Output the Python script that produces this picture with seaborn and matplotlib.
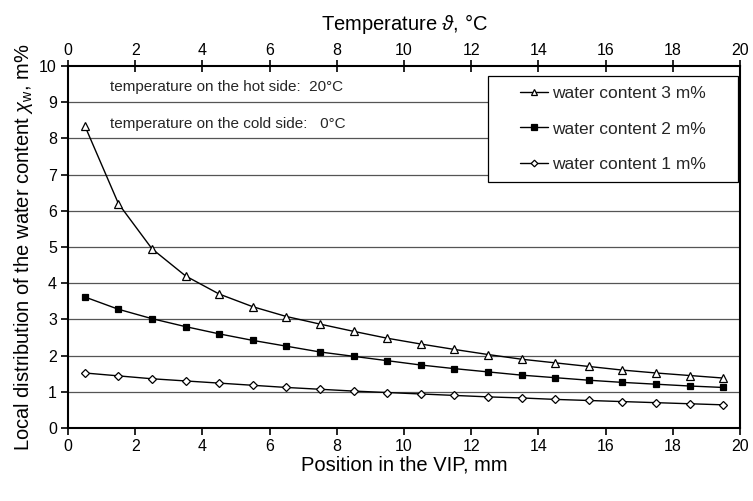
import numpy as np
import pandas as pd
import matplotlib
matplotlib.use("Agg")
import matplotlib.pyplot as plt
from matplotlib.patches import Rectangle
import seaborn as sns

position = [0.5, 1.5, 2.5, 3.5, 4.5, 5.5, 6.5, 7.5, 8.5, 9.5,
            10.5, 11.5, 12.5, 13.5, 14.5, 15.5, 16.5, 17.5, 18.5, 19.5]
wc3 = [8.35, 6.2, 4.95, 4.2, 3.7, 3.35, 3.08, 2.87, 2.67, 2.48,
       2.32, 2.17, 2.03, 1.9, 1.8, 1.7, 1.6, 1.52, 1.45, 1.38]
wc2 = [3.62, 3.28, 3.02, 2.8, 2.6, 2.42, 2.26, 2.1, 1.98, 1.86,
       1.74, 1.64, 1.55, 1.46, 1.39, 1.32, 1.26, 1.21, 1.16, 1.12]
wc1 = [1.52, 1.44, 1.36, 1.3, 1.24, 1.18, 1.12, 1.07, 1.02, 0.98,
       0.94, 0.9, 0.86, 0.83, 0.79, 0.76, 0.73, 0.70, 0.67, 0.64]
series_labels = ["water content 3 m%", "water content 2 m%", "water content 1 m%"]
x_ticks = list(range(0, 21, 2))
y_ticks = list(range(0, 11))

sns.set_theme(style="white")
plt.rcParams['font.family'] = ['Liberation Sans', 'DejaVu Sans']
plt.rcParams['mathtext.fontset'] = 'custom'
plt.rcParams['mathtext.rm'] = 'Liberation Sans'
plt.rcParams['mathtext.it'] = 'Liberation Sans:italic'

fig = plt.figure(figsize=(7.53, 5.01), dpi=100)
ax = fig.add_axes([0.0903, 0.1457, 0.8924, 0.7226])

for y in y_ticks[1:-1]:
    ax.axhline(y, color='#555555', lw=0.9, zorder=0)

styles = [
    dict(marker='^', markerfacecolor='white', markeredgecolor='black', markersize=6),
    dict(marker='s', markerfacecolor='black', markeredgecolor='black', markersize=5),
    dict(marker='D', markerfacecolor='white', markeredgecolor='black', markersize=4.5),
]
for vals, lab, st in zip([wc3, wc2, wc1], series_labels, styles):
    df = pd.DataFrame({"x": position, "y": vals})
    sns.lineplot(data=df, x="x", y="y", ax=ax, color='black', lw=1.0,
                 label=lab, markeredgewidth=0.9, **st)

ax.set_xlim(0, 20)
ax.set_ylim(0, 10)
ax.set_xticks(x_ticks)
ax.set_yticks(y_ticks)
ax.tick_params(axis='both', labelsize=11.5, colors='black', length=5, width=1.2,
               direction='out', bottom=True, left=True)
ax.tick_params(axis='x', pad=3)
ax.tick_params(axis='y', pad=3)
ax.set_xlabel("Position in the VIP, mm", fontsize=14.5, color='black', labelpad=1)
ax.set_ylabel(r"Local distribution of the water content $\chi_{\rm w}$, m%",
              fontsize=14.5, color='black', labelpad=3)
for sp in ax.spines.values():
    sp.set_color('black')
    sp.set_linewidth(1.5)

ax2 = ax.twiny()
ax2.set_xlim(0, 20)
ax2.set_xticks(x_ticks)
ax2.tick_params(axis='x', labelsize=11.5, colors='black', length=8, width=1.2,
                direction='inout', top=True, pad=2)
ax2.set_xlabel(r"Temperature $\vartheta$, °C", fontsize=14.5, color='black', labelpad=9)
for sp in ax2.spines.values():
    sp.set_visible(False)

ax.text(1.25, 9.42, "temperature on the hot side:  20°C", fontsize=11, va='center')
ax.text(1.25, 8.4, "temperature on the cold side:   0°C", fontsize=11, va='center')

# legend frame
ax.add_patch(Rectangle((0.625, 0.680), 0.372, 0.292, transform=ax.transAxes,
                       facecolor='white', edgecolor='black', lw=0.9, zorder=4))
leg = ax.legend(loc='center', bbox_to_anchor=(0.811, 0.826), fontsize=12.5,
                frameon=False, handlelength=1.6, handletextpad=0.25,
                labelspacing=1.15, borderpad=0.0, borderaxespad=0.0, markerscale=0.75)
leg.set_zorder(5)

fig.savefig("out.png", dpi=100)
